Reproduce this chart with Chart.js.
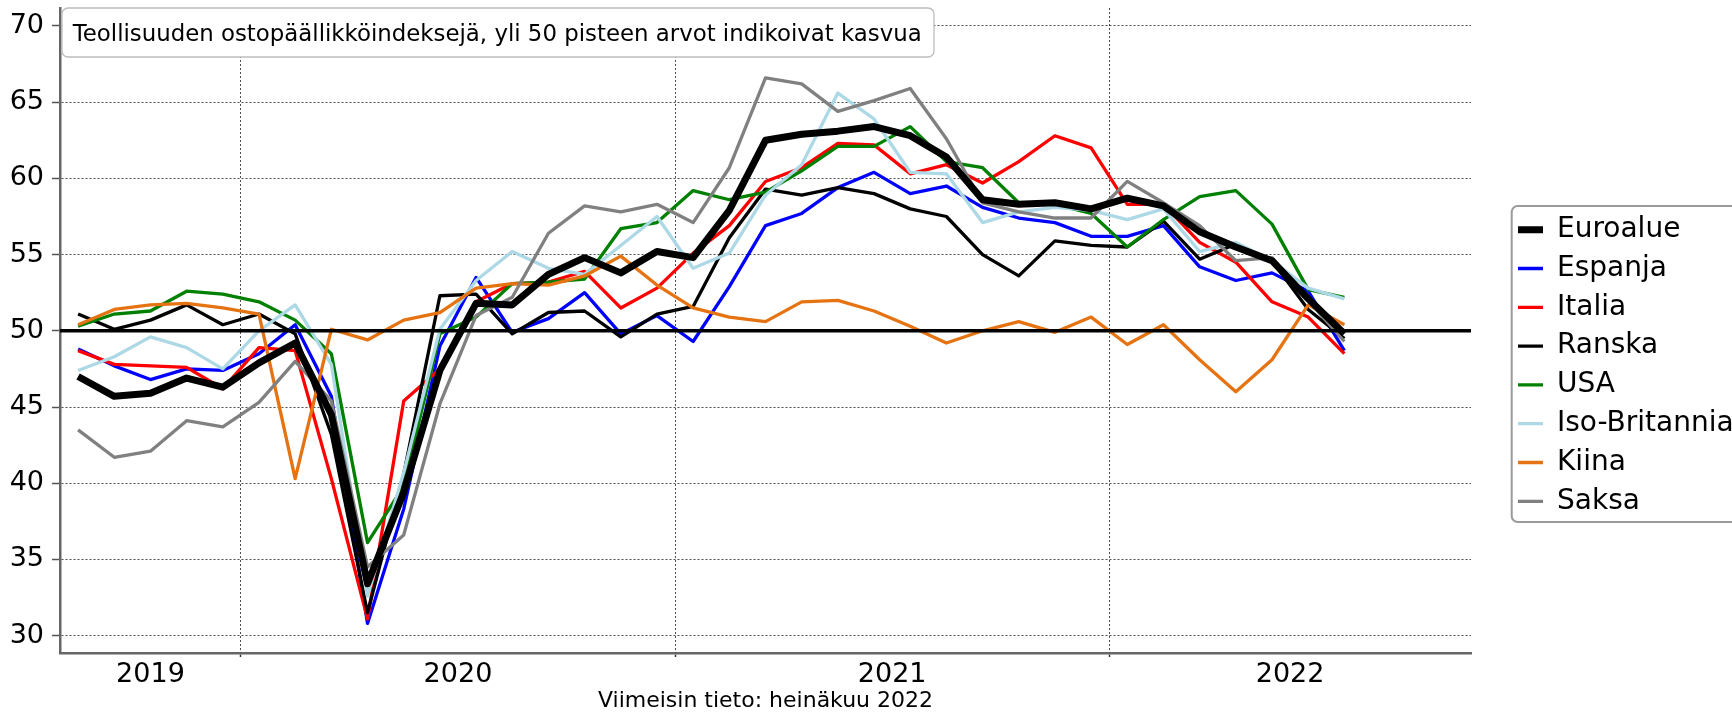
<!DOCTYPE html>
<html>
<head>
<meta charset="utf-8">
<script src="https://cdn.jsdelivr.net/npm/chart.js@4/dist/chart.umd.min.js"></script>
<style>
  html, body { margin: 0; padding: 0; background: #fff; }
</style>
</head>
<body>
<canvas id="pmiChart" width="1732" height="718"></canvas>
<script>
// Months shown (mid-month points)
const months = [
  "2019-08", "2019-09", "2019-10", "2019-11", "2019-12",
  "2020-01", "2020-02", "2020-03", "2020-04", "2020-05", "2020-06",
  "2020-07", "2020-08", "2020-09", "2020-10", "2020-11", "2020-12",
  "2021-01", "2021-02", "2021-03", "2021-04", "2021-05", "2021-06",
  "2021-07", "2021-08", "2021-09", "2021-10", "2021-11", "2021-12",
  "2022-01", "2022-02", "2022-03", "2022-04", "2022-05", "2022-06", "2022-07"
];
const years = ["2019", "2020", "2021", "2022"];
const yTicks = [30, 35, 40, 45, 50, 55, 60, 65, 70];

const euroalue = [47.0, 45.7, 45.9, 46.9, 46.3, 47.9, 49.2, 44.5, 33.4, 39.4, 47.4, 51.8, 51.7, 53.7, 54.8, 53.8, 55.2, 54.8, 57.9, 62.5, 62.9, 63.1, 63.4, 62.8, 61.4, 58.6, 58.3, 58.4, 58.0, 58.7, 58.2, 56.5, 55.5, 54.6, 52.1, 49.8];
const espanja = [48.8, 47.7, 46.8, 47.5, 47.4, 48.5, 50.4, 45.7, 30.8, 38.3, 49.0, 53.5, 49.9, 50.8, 52.5, 49.8, 51.0, 49.3, 52.9, 56.9, 57.7, 59.4, 60.4, 59.0, 59.5, 58.1, 57.4, 57.1, 56.2, 56.2, 56.9, 54.2, 53.3, 53.8, 52.6, 48.7];
const italia = [48.7, 47.8, 47.7, 47.6, 46.2, 48.9, 48.7, 40.3, 31.1, 45.4, 47.5, 51.9, 53.1, 53.2, 53.9, 51.5, 52.8, 55.1, 56.9, 59.8, 60.7, 62.3, 62.2, 60.3, 60.9, 59.7, 61.1, 62.8, 62.0, 58.3, 58.3, 55.8, 54.5, 51.9, 50.9, 48.5];
const ranska = [51.1, 50.1, 50.7, 51.7, 50.4, 51.1, 49.8, 43.2, 31.5, 40.6, 52.3, 52.4, 49.8, 51.2, 51.3, 49.6, 51.1, 51.6, 56.1, 59.3, 58.9, 59.4, 59.0, 58.0, 57.5, 55.0, 53.6, 55.9, 55.6, 55.5, 57.2, 54.7, 55.7, 54.6, 51.4, 49.5];
const usa = [50.3, 51.1, 51.3, 52.6, 52.4, 51.9, 50.7, 48.5, 36.1, 39.8, 49.8, 50.9, 53.1, 53.2, 53.4, 56.7, 57.1, 59.2, 58.6, 59.1, 60.5, 62.1, 62.1, 63.4, 61.1, 60.7, 58.4, 58.3, 57.7, 55.5, 57.3, 58.8, 59.2, 57.0, 52.7, 52.2];
const isoBritannia = [47.4, 48.3, 49.6, 48.9, 47.5, 50.0, 51.7, 47.8, 32.6, 40.7, 50.1, 53.3, 55.2, 54.1, 53.7, 55.6, 57.5, 54.1, 55.1, 58.9, 60.9, 65.6, 63.9, 60.4, 60.3, 57.1, 57.8, 58.1, 57.9, 57.3, 58.0, 55.2, 55.8, 54.6, 52.8, 52.1];
const kiina = [50.4, 51.4, 51.7, 51.8, 51.5, 51.1, 40.3, 50.1, 49.4, 50.7, 51.2, 52.8, 53.1, 53.0, 53.6, 54.9, 53.0, 51.5, 50.9, 50.6, 51.9, 52.0, 51.3, 50.3, 49.2, 50.0, 50.6, 49.9, 50.9, 49.1, 50.4, 48.1, 46.0, 48.1, 51.7, 50.4];
const saksa = [43.5, 41.7, 42.1, 44.1, 43.7, 45.3, 48.0, 45.4, 34.5, 36.6, 45.2, 51.0, 52.2, 56.4, 58.2, 57.8, 58.3, 57.1, 60.7, 66.6, 66.2, 64.4, 65.1, 65.9, 62.6, 58.4, 57.8, 57.4, 57.4, 59.8, 58.4, 56.9, 54.6, 54.8, 52.0, 49.3];

const series = [
  { name: "Euroalue", values: euroalue, color: "#000000", width: 7 },
  { name: "Espanja", values: espanja, color: "#0000ff", width: 3.3 },
  { name: "Italia", values: italia, color: "#ff0000", width: 3.3 },
  { name: "Ranska", values: ranska, color: "#000000", width: 3.3 },
  { name: "USA", values: usa, color: "#008000", width: 3.3 },
  { name: "Iso-Britannia", values: isoBritannia, color: "#add8e6", width: 3.3 },
  { name: "Kiina", values: kiina, color: "#e67312", width: 3.3 },
  { name: "Saksa", values: saksa, color: "#808080", width: 3.3 }
];

// x axis in months, 0 = start of first month
const X_MIN = 0;
const X_MAX = months.length + 3;
const boundaries = [];
const yearCenters = {};
years.forEach(function (yr) {
  const first = months.findIndex(m => m.startsWith(yr));
  const nextIdx = months.findIndex(m => m.startsWith(String(Number(yr) + 1)));
  const start = Math.max(X_MIN, first);
  const end = nextIdx < 0 ? X_MAX : nextIdx;
  if (first > 0) boundaries.push(first);
  yearCenters[(start + end) / 2] = yr;
});
const xTicks = boundaries.concat(Object.keys(yearCenters).map(Number)).sort((a, b) => a - b);

const LEGEND_W = 261;
const LEGEND_ITEM_X = 1518;
const LEGEND_ITEM_TOP = 215.7;

const layoutTweaks = {
  id: "layoutTweaks",
  beforeLayout(chart) {
    const lg = chart.legend;
    if (lg && !lg._fixedWidth) {
      const fit = lg.fit;
      lg.fit = function () { fit.call(this); this.width = LEGEND_W; };
      lg._fixedWidth = true;
    }
  },
  afterLayout(chart) {
    const lg = chart.legend;
    if (!lg) return;
    const pad = lg.options.labels.padding;
    lg.left = LEGEND_ITEM_X - pad;
    lg.top = LEGEND_ITEM_TOP - pad;
  }
};

function roundRect(ctx, x, y, w, h, r) {
  ctx.beginPath();
  ctx.moveTo(x + r, y);
  ctx.lineTo(x + w - r, y);
  ctx.arcTo(x + w, y, x + w, y + r, r);
  ctx.lineTo(x + w, y + h - r);
  ctx.arcTo(x + w, y + h, x + w - r, y + h, r);
  ctx.lineTo(x + r, y + h);
  ctx.arcTo(x, y + h, x, y + h - r, r);
  ctx.lineTo(x, y + r);
  ctx.arcTo(x, y, x + r, y, r);
  ctx.closePath();
}

const boxes = {
  id: "boxes",
  afterDraw(chart) {
    const ctx = chart.ctx;
    const area = chart.chartArea;
    ctx.save();
    // title box
    const title = "Teollisuuden ostopäällikköindeksejä, yli 50 pisteen arvot indikoivat kasvua";
    ctx.font = '22.85px "DejaVu Sans", sans-serif';
    const tw = ctx.measureText(title).width;
    const bx = area.left + 2, by = area.top;
    roundRect(ctx, bx, by, tw + 23, 49, 6);
    ctx.fillStyle = "#ffffff";
    ctx.fill();
    ctx.lineWidth = 1.3;
    ctx.strokeStyle = "#bdbdbd";
    ctx.stroke();
    ctx.fillStyle = "#000";
    ctx.textBaseline = "alphabetic";
    ctx.textAlign = "left";
    ctx.fillText(title, bx + 10.7, by + 33.4);
    // legend frame (runs past the right edge)
    roundRect(ctx, LEGEND_ITEM_X - 6.3, LEGEND_ITEM_TOP - 9.7, 280, 316, 6);
    ctx.lineWidth = 2;
    ctx.strokeStyle = "#9a9a9a";
    ctx.stroke();
    ctx.restore();
  }
};

Chart.defaults.font.family = '"DejaVu Sans", sans-serif';
Chart.defaults.color = "#000";

const datasets = series.map(function (s, k) {
  return {
    label: s.name,
    data: s.values.map((v, i) => ({ x: i + 0.5, y: v })),
    borderColor: s.color,
    backgroundColor: s.color,
    borderWidth: s.width,
    pointRadius: 0,
    tension: 0,
    borderJoinStyle: "round",
    order: k === 0 ? 0 : 10 - k
  };
});
datasets.push({
  label: "",
  data: [{ x: X_MIN, y: 50 }, { x: X_MAX, y: 50 }],
  borderColor: "#000",
  borderWidth: 3.4,
  pointRadius: 0,
  order: 1
});

const ctx = document.getElementById("pmiChart").getContext("2d");
new Chart(ctx, {
  type: "line",
  data: { datasets: datasets },
  options: {
    responsive: false,
    animation: false,
    layout: { padding: { top: 8, left: 0, right: 0, bottom: 0 } },
    plugins: {
      legend: {
        position: "right",
        align: "start",
        labels: {
          usePointStyle: true,
          pointStyle: "line",
          pointStyleWidth: 25,
          padding: 10.8,
          color: "#000",
          font: { size: 28 },
          filter: item => item.text !== "",
          sort: (a, b) => a.datasetIndex - b.datasetIndex
        }
      },
      tooltip: { enabled: false }
    },
    scales: {
      x: {
        type: "linear",
        min: X_MIN,
        max: X_MAX,
        afterBuildTicks: s => { s.ticks = xTicks.map(v => ({ value: v })); },
        afterFit: s => { s.height = 65; s.paddingLeft = 0; s.paddingRight = 0; },
        ticks: {
          autoSkip: false,
          maxRotation: 0,
          padding: 2,
          color: "#000",
          font: { size: 27 },
          callback: v => yearCenters[v] || ""
        },
        grid: {
          color: c => (c.tick && boundaries.includes(c.tick.value)) ? "rgba(0,0,0,0.7)" : "rgba(0,0,0,0)",
          lineWidth: 1,
          tickLength: 4,
          tickWidth: 1.5,
          tickBorderDash: [],
          tickColor: c => (c.tick && boundaries.includes(c.tick.value)) ? "#333" : "rgba(0,0,0,0)"
        },
        border: { color: "#666", width: 2.5, dash: [2, 2] },
        title: {
          display: true,
          text: "Viimeisin tieto: heinäkuu 2022",
          color: "#000",
          font: { size: 22 },
          padding: { top: 0, bottom: 4 }
        }
      },
      y: {
        min: 28.86,
        max: 71.18,
        afterBuildTicks: s => { s.ticks = yTicks.map(v => ({ value: v })); },
        afterFit: s => { s.width = 60; s.paddingTop = 0; s.paddingBottom = 0; },
        ticks: { padding: 8, color: "#000", font: { size: 27 } },
        grid: {
          color: "rgba(0,0,0,0.7)",
          lineWidth: 1,
          tickLength: 8,
          tickWidth: 1.5,
          tickBorderDash: [],
          tickColor: "#555"
        },
        border: { color: "#666", width: 2.5, dash: [2, 2] }
      }
    }
  },
  plugins: [layoutTweaks, boxes]
});
</script>
</body>
</html>
